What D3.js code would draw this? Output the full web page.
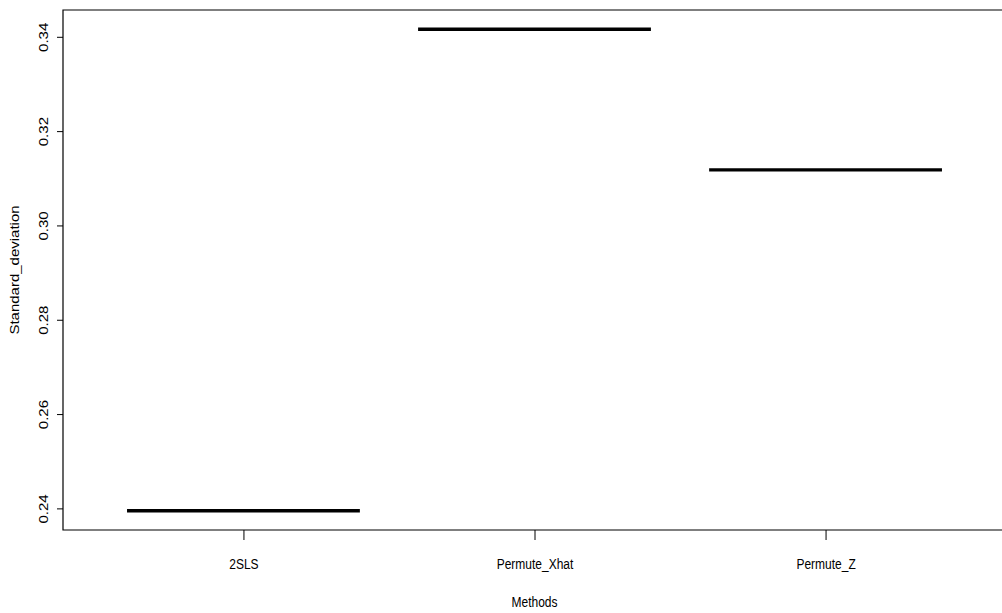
<!DOCTYPE html>
<html>
<head>
<meta charset="utf-8">
<script src="https://cdn.jsdelivr.net/npm/d3@7"></script>
<style>
  html, body { margin: 0; background: #fff; overflow: hidden; }
  svg { display: block; }
  text { font-family: "Liberation Sans", Arial, Helvetica, sans-serif; fill: #000; }
</style>
</head>
<body>
<svg id="chart__svg" width="1040" height="613"></svg>
<script>
// data
const methods = ["2SLS", "Permute_Xhat", "Permute_Z"];
const sdValues = [0.2395, 0.3416, 0.3118];
const yTicks = [0.24, 0.26, 0.28, 0.3, 0.32, 0.34];

const SVG = d3.select("#chart__svg");
// plot region (R style, right edge runs just past the window)
const PLOT = { left: 63, right: 1006, top: 10, bottom: 530 };
const SQUEEZE = 0.8; // the picture is a bit narrower than the text would be

// R boxplot: xlim 0.5..n+0.5 then 4% padding
const n = methods.length;
const xPad = n * 0.04;
const xScale = d3
  .scaleLinear()
  .domain([0.5 - xPad, n + 0.5 + xPad])
  .range([PLOT.left, PLOT.right]);

const yMin = d3.min(sdValues);
const yMax = d3.max(sdValues);
const yPad = (yMax - yMin) * 0.04;
const yScale = d3
  .scaleLinear()
  .domain([yMin - yPad, yMax + yPad])
  .range([PLOT.bottom, PLOT.top]);

const boxHalf = 0.4; // boxwex 0.8

// frame: only top, left and bottom fall inside the window
SVG.append("path")
  .attr("d", d3.line()([
    [PLOT.right + 20, PLOT.top],
    [PLOT.left, PLOT.top],
    [PLOT.left, PLOT.bottom],
    [PLOT.right + 20, PLOT.bottom],
  ]))
  .attr("fill", "none")
  .attr("stroke", "#000")
  .attr("stroke-width", 1.2);

// y axis
const yAxis = SVG.append("g")
  .attr("id", "y-axis")
  .attr("transform", "translate(" + PLOT.left + ",0)")
  .call(d3.axisLeft(yScale).tickValues(yTicks).tickSize(6).tickFormat(d3.format(".2f")));
yAxis.select(".domain").remove();
yAxis.selectAll("line").attr("stroke", "#000").attr("stroke-width", 1);
yAxis
  .selectAll("text")
  .attr("x", null)
  .attr("dy", null)
  .attr("text-anchor", "middle")
  .attr("font-size", 15)
  .attr("transform", "translate(-15,0) scale(" + SQUEEZE + ",1) rotate(-90)");

// x axis
const xAxis = SVG.append("g")
  .attr("id", "x-axis")
  .attr("transform", "translate(0," + PLOT.bottom + ")")
  .call(
    d3
      .axisBottom(xScale)
      .tickValues(methods.map((d, i) => i + 1))
      .tickSize(10)
      .tickFormat((d) => methods[d - 1])
  );
xAxis.select(".domain").remove();
xAxis.selectAll("line").attr("stroke", "#000").attr("stroke-width", 1);
xAxis
  .selectAll("text")
  .attr("y", null)
  .attr("dy", null)
  .attr("text-anchor", "middle")
  .attr("font-size", 15)
  .attr("transform", "translate(0,39) scale(" + SQUEEZE + ",1)");

// axis titles
SVG.append("text")
  .attr("class", "x-label")
  .attr("text-anchor", "middle")
  .attr("font-size", 15)
  .attr(
    "transform",
    "translate(" + (PLOT.left + PLOT.right) / 2 + ",607) scale(" + SQUEEZE + ",1)"
  )
  .text("Methods");

SVG.append("text")
  .attr("class", "y-label")
  .attr("text-anchor", "middle")
  .attr("font-size", 15)
  .attr(
    "transform",
    "translate(19," + (PLOT.top + PLOT.bottom) / 2 + ") scale(" + SQUEEZE + ",1) rotate(-90)"
  )
  .text("Standard_deviation");

// median bars (single value per method)
SVG.append("g")
  .attr("id", "medians")
  .selectAll("line")
  .data(sdValues)
  .join("line")
  .attr("x1", (d, i) => xScale(i + 1 - boxHalf))
  .attr("x2", (d, i) => xScale(i + 1 + boxHalf))
  .attr("y1", (d) => yScale(d))
  .attr("y2", (d) => yScale(d))
  .attr("stroke", "#000")
  .attr("stroke-width", 3.3)
  .attr("stroke-linecap", "butt");
</script>
</body>
</html>
